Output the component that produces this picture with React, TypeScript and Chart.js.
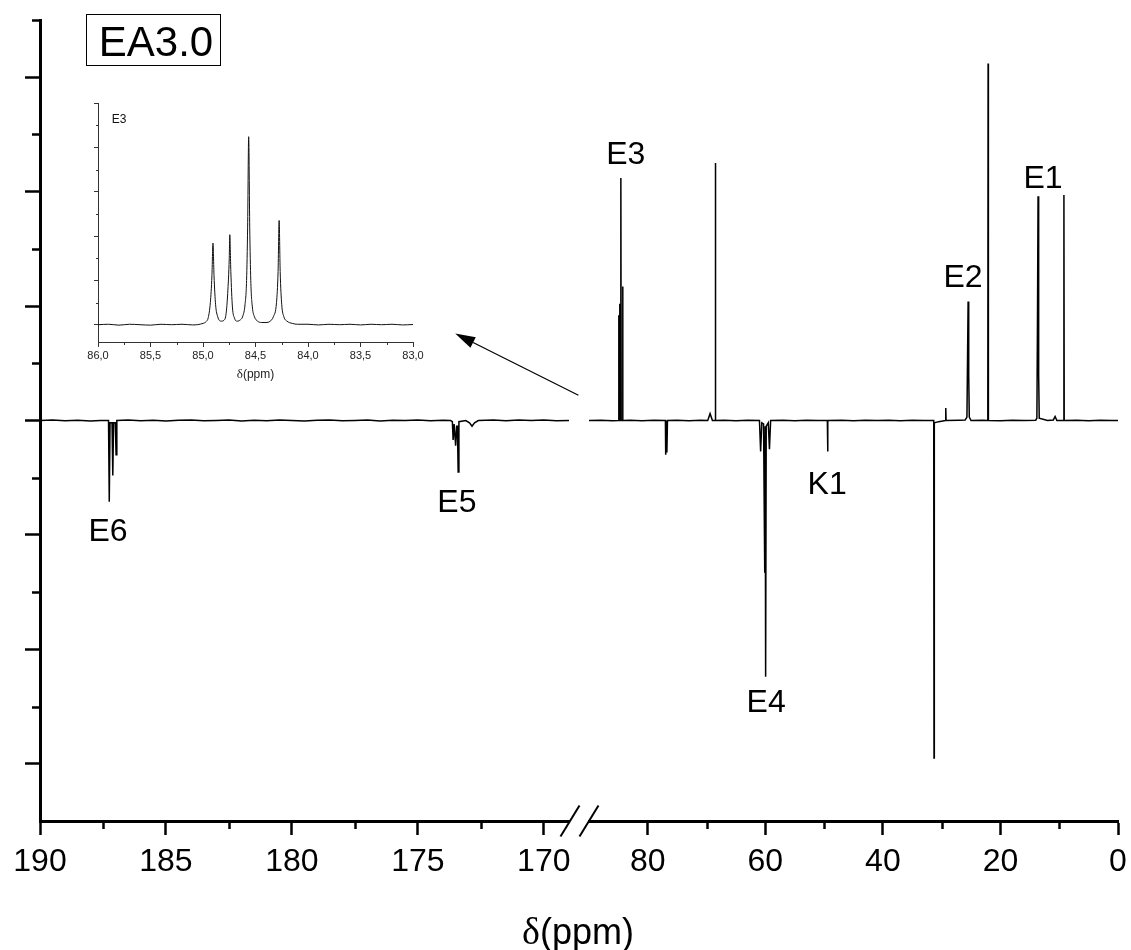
import React, { useEffect, useRef } from "react";
import { Chart, registerables } from "chart.js";

Chart.register(...registerables);

// ---------------- data ----------------
// Left segment of the broken axis: 190 → 169 ppm
const leftPpm = [
  190.0, 189.5, 189.0, 188.5, 188.0, 187.6, 187.28, 187.25, 187.22, 187.14, 187.11, 187.08, 187.01,
  186.98, 186.95, 186.5, 186.0, 185.5, 185.0, 184.5, 184.0, 183.5, 183.0, 182.5, 182.0, 181.5,
  181.0, 180.5, 180.0, 179.5, 179.0, 178.5, 178.0, 177.5, 177.0, 176.5, 176.0, 175.5, 175.0, 174.5,
  174.0, 173.7, 173.63, 173.6, 173.56, 173.53, 173.5, 173.46, 173.43, 173.4, 173.37, 173.1, 172.95,
  172.85, 172.75, 172.6, 172.0, 171.5, 171.0, 170.5, 170.0, 169.5, 169.0,
];
const leftIntensity = [
  0.0, 0.004, -0.002, 0.003, -0.004, 0.0, 0.0, -0.71, -0.02, -0.02, -0.48, -0.02, -0.02,
  -0.3, 0.0, 0.004, -0.002, 0.003, -0.004, 0.002, 0.004, -0.002, 0.0, 0.004, -0.004, 0.002,
  -0.002, 0.004, 0.0, -0.004, 0.002, 0.004, -0.002, 0.0, 0.004, -0.004, 0.002, 0.0, 0.004, -0.002,
  0.002, 0.0, -0.01, -0.17, -0.03, -0.03, -0.22, -0.05, -0.05, -0.45, -0.01, 0.0, -0.02,
  -0.05, -0.02, 0.0, 0.004, -0.002, 0.004, 0.0, 0.004, -0.002, 0.0,
];

// Right segment of the broken axis: 90 → 0 ppm
const rightPpm = [
  90.0, 88.0, 86.0, 85.0, 84.95, 84.9, 84.85, 84.78, 84.74, 84.7, 84.6, 84.56, 84.52, 84.31, 84.27,
  84.23, 83.0, 81.0, 79.0, 77.0, 76.95, 76.85, 76.75, 76.65, 75.0, 73.0, 71.0, 69.8, 69.4, 69.0,
  68.55, 68.5, 68.45, 67.0, 65.0, 63.0, 61.0, 60.8, 60.6, 60.3, 60.1, 60.02, 59.95, 59.85, 59.5,
  59.3, 59.1, 57.0, 55.0, 53.0, 51.0, 49.45, 49.4, 49.35, 47.0, 45.0, 43.0, 41.0, 39.0, 37.0, 35.0,
  33.0, 31.35, 31.3, 31.25, 30.5, 29.35, 29.3, 29.25, 27.0, 26.0, 25.7, 25.6, 25.5, 25.4, 25.3,
  25.0, 23.0, 22.15, 22.1, 22.05, 20.0, 18.0, 16.0, 14.0, 13.8, 13.7, 13.6, 13.5, 13.4, 12.0,
  11.0, 10.7, 10.4, 9.25, 9.2, 9.15, 7.0, 5.0, 3.0, 1.0, 0.0,
];
const rightIntensity = [
  0.0, 0.003, -0.003, 0.0, 0.0, 0.92, 0.0, 0.0, 1.02, 0.0, 0.0, 2.12, 0.0, 0.0, 1.17,
  0.0, 0.003, -0.003, 0.003, 0.0, -0.3, 0.0, -0.28, 0.0, 0.003, -0.003, 0.003, 0.0, 0.06, 0.0,
  0.0, 2.25, 0.0, 0.003, -0.003, 0.003, 0.0, -0.27, -0.02, -0.03, -1.33, -0.05, -2.24, -0.05, -0.02,
  -0.25, 0.0, 0.003, -0.003, 0.003, 0.0, 0.0, -0.27, 0.0, 0.003, -0.003, 0.003, 0.0, 0.003, -0.003,
  0.003, 0.0, 0.0, -2.95, -0.02, -0.01, 0.0, 0.11, 0.0, 0.003, 0.005, 0.03, 0.53, 1.04, 0.4, 0.03,
  0.0, 0.003, 0.0, 3.12, 0.0, -0.003, 0.003, 0.0, 0.003, 0.02, 0.86, 1.96, 0.4, 0.02, 0.0,
  0.005, 0.035, 0.0, 0.0, 1.97, 0.0, 0.003, -0.003, 0.003, 0.0, 0.0,
];

// Inset: zoom on E3 (86.0 → 83.0 ppm)
const insetPpm = [
  86.0, 85.9, 85.8, 85.7, 85.6, 85.5, 85.4, 85.3, 85.2, 85.1, 85.0, 84.97, 84.95, 84.93, 84.915,
  84.905, 84.895, 84.88, 84.86, 84.83, 84.8, 84.78, 84.765, 84.75, 84.745, 84.735, 84.72, 84.7,
  84.68, 84.65, 84.62, 84.6, 84.585, 84.575, 84.565, 84.555, 84.545, 84.53, 84.51, 84.48, 84.44,
  84.4, 84.36, 84.33, 84.3, 84.285, 84.275, 84.265, 84.25, 84.23, 84.2, 84.15, 84.1, 84.0, 83.9,
  83.8, 83.7, 83.6, 83.5, 83.4, 83.3, 83.2, 83.1, 83.0,
];
const insetIntensity = [
  0.0, 0.01, -0.01, 0.01, 0.0, -0.01, 0.01, 0.0, 0.01, -0.005, 0.03, 0.07, 0.16, 0.5, 1.1,
  1.84, 1.1, 0.45, 0.18, 0.08, 0.1, 0.25, 0.7, 1.5, 2.03, 1.2, 0.4, 0.15,
  0.08, 0.1, 0.2, 0.45, 1.0, 2.2, 4.24, 2.2, 1.0, 0.4, 0.18, 0.08, 0.05,
  0.05, 0.08, 0.18, 0.5, 1.2, 2.35, 1.2, 0.45, 0.18, 0.08, 0.03, 0.01, 0.01, -0.005,
  0.01, 0.0, 0.01, -0.005, 0.01, 0.0, 0.01, -0.005, 0.005,
];

// Tick values
const leftTicks = [170, 175, 180, 185, 190];
const leftMinorTicks = [172.5, 177.5, 182.5, 187.5];
const rightTicks = [0, 20, 40, 60, 80];
const rightMinorTicks = [10, 30, 50, 70];
const yTicks = [-3, -2, -1, 0, 1, 2, 3];
const yMinorTicks = [-2.5, -1.5, -0.5, 0.5, 1.5, 2.5, 3.5];
const insetXTicks = [83.0, 83.5, 84.0, 84.5, 85.0, 85.5, 86.0];
const insetXMinorTicks = [83.25, 83.75, 84.25, 84.75, 85.25, 85.75];
const insetYTicks = [0, 1, 2, 3, 4, 5];
const insetYMinorTicks = [0.5, 1.5, 2.5, 3.5, 4.5];

// Peak labels (text, ppm, intensity of the text baseline)
const leftLabels = [
  { text: "E6", ppm: 187.3, y: -1.057 },
  { text: "E5", ppm: 173.45, y: -0.8 },
];
const rightLabels = [
  { text: "E3", ppm: 83.74, y: 2.245 },
  { text: "E2", ppm: 26.36, y: 1.17 },
  { text: "E1", ppm: 12.76, y: 2.035 },
  { text: "K1", ppm: 49.49, y: -0.646 },
  { text: "E4", ppm: 59.86, y: -2.55 },
];

// ---------------- layout ----------------
const W = 1131;
const H = 950;
const FONT = "'Liberation Sans', Arial, Helvetica, sans-serif";
const SERIF = "'Liberation Serif', 'Times New Roman', serif";
const AREA_TOP = 20;
const AREA_BOTTOM = 821;
const LEFT_AREA_LEFT = 40;
const LEFT_AREA_RIGHT = 569;
const RIGHT_AREA_LEFT = 589;
const RIGHT_AREA_RIGHT = 1118;
const INSET = { left: 98, right: 413, top: 103, bottom: 342 };

type AnyScale = any;

function drawMinorX(ctx: CanvasRenderingContext2D, scale: AnyScale, values: number[], len: number, width: number, color: string) {
  ctx.save();
  ctx.strokeStyle = color;
  ctx.lineWidth = width;
  ctx.beginPath();
  for (const v of values) {
    const px = Math.round(scale.getPixelForValue(v)) + 0.5;
    ctx.moveTo(px, scale.top);
    ctx.lineTo(px, scale.top + len);
  }
  ctx.stroke();
  ctx.restore();
}

function drawMinorY(ctx: CanvasRenderingContext2D, scale: AnyScale, values: number[], len: number, width: number, color: string) {
  ctx.save();
  ctx.strokeStyle = color;
  ctx.lineWidth = width;
  ctx.beginPath();
  for (const v of values) {
    const py = Math.round(scale.getPixelForValue(v)) + 0.5;
    ctx.moveTo(scale.right - len, py);
    ctx.lineTo(scale.right, py);
  }
  ctx.stroke();
  ctx.restore();
}

function drawSlash(ctx: CanvasRenderingContext2D, cx: number, cy: number) {
  ctx.save();
  ctx.strokeStyle = "#000";
  ctx.lineWidth = 2;
  ctx.beginPath();
  ctx.moveTo(cx - 9.5, cy + 15.5);
  ctx.lineTo(cx + 9.5, cy - 15.5);
  ctx.stroke();
  ctx.restore();
}

function drawLabels(ctx: CanvasRenderingContext2D, chart: any, labels: { text: string; ppm: number; y: number }[]) {
  const xs = chart.scales.x;
  const ys = chart.scales.y;
  ctx.save();
  ctx.fillStyle = "#000";
  ctx.font = `32px ${FONT}`;
  ctx.textAlign = "center";
  ctx.textBaseline = "alphabetic";
  for (const l of labels) {
    ctx.fillText(l.text, xs.getPixelForValue(l.ppm), ys.getPixelForValue(l.y));
  }
  ctx.restore();
}

function drawDeltaTitle(ctx: CanvasRenderingContext2D, cx: number, baseline: number, size: number, color: string) {
  ctx.save();
  ctx.fillStyle = color;
  ctx.textBaseline = "alphabetic";
  ctx.textAlign = "left";
  ctx.font = `${Math.round(size * 1.05)}px ${SERIF}`;
  const dW = ctx.measureText("δ").width;
  ctx.font = `${size}px ${FONT}`;
  const pW = ctx.measureText("(ppm)").width;
  const x0 = cx - (dW + pW) / 2;
  ctx.font = `${Math.round(size * 1.05)}px ${SERIF}`;
  ctx.fillText("δ", x0, baseline);
  ctx.font = `${size}px ${FONT}`;
  ctx.fillText("(ppm)", x0 + dW, baseline);
  ctx.restore();
}

const leftDecor = {
  id: "leftDecor",
  afterDraw(chart: any) {
    const ctx = chart.ctx as CanvasRenderingContext2D;
    drawMinorX(ctx, chart.scales.x, leftMinorTicks, 8, 2.5, "#000");
    drawMinorY(ctx, chart.scales.y, yMinorTicks, 8, 2.5, "#000");
    drawSlash(ctx, chart.chartArea.right + 1, chart.chartArea.bottom);
    drawLabels(ctx, chart, leftLabels);
    // sample name box
    ctx.save();
    ctx.strokeStyle = "#000";
    ctx.lineWidth = 1;
    ctx.strokeRect(86.5, 14.5, 134, 51);
    ctx.fillStyle = "#000";
    ctx.font = `42px ${FONT}`;
    ctx.textAlign = "center";
    ctx.textBaseline = "alphabetic";
    ctx.fillText("EA3.0", 156, 56);
    ctx.restore();
    // axis title
    drawDeltaTitle(ctx, 578, 944, 36, "#000");
  },
};

const rightDecor = {
  id: "rightDecor",
  afterDraw(chart: any) {
    const ctx = chart.ctx as CanvasRenderingContext2D;
    const xs = chart.scales.x;
    const ys = chart.scales.y;
    drawMinorX(ctx, xs, rightMinorTicks, 8, 2.5, "#000");
    drawSlash(ctx, chart.chartArea.left, chart.chartArea.bottom);
    drawLabels(ctx, chart, rightLabels);
    // arrow pointing from the E3 peak towards the inset
    const tx = xs.getPixelForValue(91.8);
    const ty = ys.getPixelForValue(0.22);
    const hx = xs.getPixelForValue(112.76);
    const hy = ys.getPixelForValue(0.76);
    const ang = Math.atan2(hy - ty, hx - tx);
    const headLen = 20;
    const headHalf = 6;
    const bx = hx - headLen * Math.cos(ang);
    const by = hy - headLen * Math.sin(ang);
    ctx.save();
    ctx.strokeStyle = "#000";
    ctx.fillStyle = "#000";
    ctx.lineWidth = 1.2;
    ctx.beginPath();
    ctx.moveTo(tx, ty);
    ctx.lineTo(bx, by);
    ctx.stroke();
    ctx.beginPath();
    ctx.moveTo(hx, hy);
    ctx.lineTo(bx + headHalf * Math.sin(ang), by - headHalf * Math.cos(ang));
    ctx.lineTo(bx - headHalf * Math.sin(ang), by + headHalf * Math.cos(ang));
    ctx.closePath();
    ctx.fill();
    ctx.restore();
  },
};

const insetDecor = {
  id: "insetDecor",
  afterDraw(chart: any) {
    const ctx = chart.ctx as CanvasRenderingContext2D;
    drawMinorX(ctx, chart.scales.x, insetXMinorTicks, 3, 1, "#333");
    drawMinorY(ctx, chart.scales.y, insetYMinorTicks, 2, 1, "#333");
    const xs = chart.scales.x;
    const ys = chart.scales.y;
    ctx.save();
    ctx.fillStyle = "#111";
    ctx.font = `12px ${FONT}`;
    ctx.textAlign = "left";
    ctx.textBaseline = "alphabetic";
    ctx.fillText("E3", xs.getPixelForValue(85.87), ys.getPixelForValue(4.55));
    ctx.restore();
    drawDeltaTitle(ctx, (chart.chartArea.left + chart.chartArea.right) / 2, 378, 12, "#222");
  },
};

function toPoints(xs: number[], ys: number[]) {
  return xs.map((x, i) => ({ x, y: ys[i] }));
}

function mainAxisX(min: number, max: number, ticks: number[]) {
  return {
    type: "linear",
    reverse: true,
    min,
    max,
    afterBuildTicks: (s: AnyScale) => {
      s.ticks = ticks.map((v) => ({ value: v }));
    },
    afterFit: (s: AnyScale) => {
      s.height = H - AREA_BOTTOM;
      s.paddingLeft = 0;
      s.paddingRight = 0;
    },
    ticks: {
      font: { family: FONT, size: 32 },
      color: "#000",
      padding: 8,
      maxRotation: 0,
      autoSkip: false,
      callback: (v: any) => String(v),
    },
    grid: {
      display: true,
      drawOnChartArea: false,
      drawTicks: true,
      tickLength: 14,
      tickWidth: 2.5,
      tickColor: "#000",
    },
    border: { display: true, color: "#000", width: 3 },
  };
}

function leftConfig(): any {
  return {
    type: "line",
    data: {
      datasets: [
        {
          data: toPoints(leftPpm, leftIntensity),
          borderColor: "#000",
          borderWidth: 1.5,
          pointRadius: 0,
          tension: 0,
          fill: false,
        },
      ],
    },
    options: {
      animation: false,
      responsive: false,
      devicePixelRatio: 1,
      events: [],
      layout: { padding: { left: 0, right: W - LEFT_AREA_RIGHT, top: AREA_TOP, bottom: 0 } },
      plugins: { legend: { display: false }, tooltip: { enabled: false } },
      scales: {
        x: mainAxisX(169, 190, leftTicks),
        y: {
          type: "linear",
          min: -3.5,
          max: 3.5,
          afterBuildTicks: (s: AnyScale) => {
            s.ticks = yTicks.map((v) => ({ value: v }));
          },
          afterFit: (s: AnyScale) => {
            s.width = LEFT_AREA_LEFT;
            s.paddingTop = 0;
            s.paddingBottom = 0;
          },
          ticks: { display: false },
          grid: {
            display: true,
            drawOnChartArea: false,
            drawTicks: true,
            tickLength: 15,
            tickWidth: 2.5,
            tickColor: "#000",
          },
          border: { display: true, color: "#000", width: 3 },
        },
      },
    },
    plugins: [leftDecor],
  };
}

function rightConfig(): any {
  return {
    type: "line",
    data: {
      datasets: [
        {
          data: toPoints(rightPpm, rightIntensity),
          borderColor: "#000",
          borderWidth: 1.5,
          pointRadius: 0,
          tension: 0,
          fill: false,
        },
      ],
    },
    options: {
      animation: false,
      responsive: false,
      devicePixelRatio: 1,
      events: [],
      layout: {
        padding: { left: RIGHT_AREA_LEFT, right: W - RIGHT_AREA_RIGHT, top: AREA_TOP, bottom: 0 },
      },
      plugins: { legend: { display: false }, tooltip: { enabled: false } },
      scales: {
        x: mainAxisX(0, 90, rightTicks),
        y: { type: "linear", min: -3.5, max: 3.5, display: false },
      },
    },
    plugins: [rightDecor],
  };
}

function insetConfig(): any {
  const yW = 10;
  const xH = 40;
  return {
    type: "line",
    data: {
      datasets: [
        {
          data: toPoints(insetPpm, insetIntensity),
          borderColor: "#111",
          borderWidth: 1,
          pointRadius: 0,
          cubicInterpolationMode: "monotone",
          fill: false,
        },
      ],
    },
    options: {
      animation: false,
      responsive: false,
      devicePixelRatio: 1,
      events: [],
      layout: {
        padding: {
          left: INSET.left - yW,
          right: W - INSET.right,
          top: INSET.top,
          bottom: H - INSET.bottom - xH,
        },
      },
      plugins: { legend: { display: false }, tooltip: { enabled: false } },
      scales: {
        x: {
          type: "linear",
          reverse: true,
          min: 83,
          max: 86,
          afterBuildTicks: (s: AnyScale) => {
            s.ticks = insetXTicks.map((v) => ({ value: v }));
          },
          afterFit: (s: AnyScale) => {
            s.height = xH;
            s.paddingLeft = 0;
            s.paddingRight = 0;
          },
          ticks: {
            font: { family: FONT, size: 11 },
            color: "#222",
            padding: 2,
            maxRotation: 0,
            autoSkip: false,
            callback: (v: any) => Number(v).toFixed(1).replace(".", ","),
          },
          grid: {
            display: true,
            drawOnChartArea: false,
            drawTicks: true,
            tickLength: 5,
            tickWidth: 1,
            tickColor: "#333",
          },
          border: { display: true, color: "#333", width: 1 },
        },
        y: {
          type: "linear",
          min: -0.39,
          max: 5,
          afterBuildTicks: (s: AnyScale) => {
            s.ticks = insetYTicks.map((v) => ({ value: v }));
          },
          afterFit: (s: AnyScale) => {
            s.width = yW;
            s.paddingTop = 0;
            s.paddingBottom = 0;
          },
          ticks: { display: false },
          grid: {
            display: true,
            drawOnChartArea: false,
            drawTicks: true,
            tickLength: 4,
            tickWidth: 1,
            tickColor: "#333",
          },
          border: { display: true, color: "#333", width: 1 },
        },
      },
    },
    plugins: [insetDecor],
  };
}

export default function App() {
  const leftRef = useRef<HTMLCanvasElement>(null);
  const rightRef = useRef<HTMLCanvasElement>(null);
  const insetRef = useRef<HTMLCanvasElement>(null);

  useEffect(() => {
    const charts: Chart[] = [];
    if (leftRef.current) charts.push(new Chart(leftRef.current, leftConfig()));
    if (rightRef.current) charts.push(new Chart(rightRef.current, rightConfig()));
    if (insetRef.current) charts.push(new Chart(insetRef.current, insetConfig()));
    return () => charts.forEach((c) => c.destroy());
  }, []);

  const canvasStyle: React.CSSProperties = {
    position: "absolute",
    left: 0,
    top: 0,
    width: W,
    height: H,
  };

  return (
    <div
      style={{
        position: "absolute",
        left: 0,
        top: 0,
        width: W,
        height: H,
        background: "#fff",
        overflow: "hidden",
      }}
    >
      <canvas ref={leftRef} width={W} height={H} style={canvasStyle} />
      <canvas ref={rightRef} width={W} height={H} style={canvasStyle} />
      <canvas ref={insetRef} width={W} height={H} style={canvasStyle} />
    </div>
  );
}
